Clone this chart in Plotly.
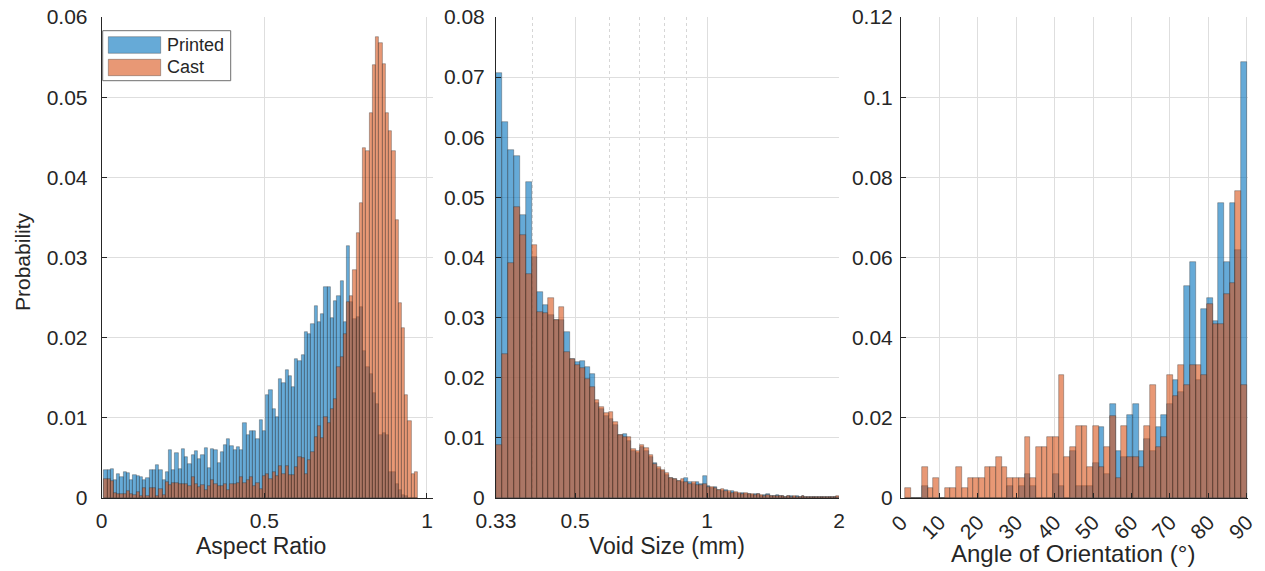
import numpy as np
import plotly.graph_objects as go

# ---------------- data ----------------
# Panel 1: Aspect Ratio (97 equal bins between these limits)
ar_bin_lo, ar_bin_hi = 0.007, 0.972
ar_printed = [0.0035, 0.0035, 0.0036, 0.0022, 0.0030, 0.0026, 0.0032, 0.0031, 0.0022, 0.0029,
              0.0028, 0.0026, 0.0023, 0.0025, 0.0035, 0.0035, 0.0041, 0.0035, 0.0022, 0.0033,
              0.0060, 0.0035, 0.0056, 0.0036, 0.0061, 0.0051, 0.0043, 0.0054, 0.0059, 0.0049,
              0.0054, 0.0063, 0.0037, 0.0061, 0.0060, 0.0044, 0.0058, 0.0066, 0.0073, 0.0065,
              0.0060, 0.0064, 0.0060, 0.0093, 0.0079, 0.0083, 0.0083, 0.0073, 0.0097, 0.0083,
              0.0128, 0.0135, 0.0111, 0.0101, 0.0148, 0.0144, 0.0160, 0.0152, 0.0138, 0.0173,
              0.0171, 0.0179, 0.0207, 0.0204, 0.0217, 0.0239, 0.0220, 0.0229, 0.0263, 0.0263,
              0.0224, 0.0246, 0.0252, 0.0271, 0.0220, 0.0314, 0.0245, 0.0223, 0.0226, 0.0238,
              0.0183, 0.0163, 0.0155, 0.0131, 0.0117, 0.0079, 0.0081, 0.0079, 0.0033, 0.0033,
              0.0017, 0.0010, 0.0004, 0.0002, 0.0, 0.0, 0.0]
ar_cast = [0.0024, 0.0024, 0.0021, 0.0006, 0.0005, 0.0005, 0.0005, 0.0009, 0.0005, 0.0004,
           0.0007, 0.0003, 0.0012, 0.0003, 0.0012, 0.0012, 0.0003, 0.0011, 0.0004, 0.0020,
           0.0016, 0.0019, 0.0019, 0.0017, 0.0017, 0.0018, 0.0015, 0.0026, 0.0017, 0.0014,
           0.0016, 0.0010, 0.0015, 0.0023, 0.0017, 0.0015, 0.0015, 0.0017, 0.0010, 0.0017,
           0.0017, 0.0019, 0.0026, 0.0019, 0.0023, 0.0026, 0.0015, 0.0019, 0.0011, 0.0028,
           0.0030, 0.0024, 0.0032, 0.0028, 0.0040, 0.0030, 0.0040, 0.0029, 0.0029, 0.0039,
           0.0051, 0.0050, 0.0030, 0.0048, 0.0058, 0.0076, 0.0090, 0.0075, 0.0101, 0.0093,
           0.0111, 0.0124, 0.0163, 0.0176, 0.0205, 0.0245, 0.0252, 0.0285, 0.0331, 0.0368,
           0.0436, 0.0433, 0.0480, 0.0540, 0.0575, 0.0567, 0.0542, 0.0480, 0.0458, 0.0433,
           0.0347, 0.0243, 0.0212, 0.0128, 0.0096, 0.0030, 0.0033]

# Panel 2: Void Size (mm) (89 bins, equal steps in sqrt(size))
vs_bin_lo, vs_bin_hi = 0.33, 2.0
vs_printed = [0.0707, 0.0625, 0.0578, 0.0568, 0.0471, 0.0526, 0.0401, 0.0343, 0.0321, 0.0305,
              0.0296, 0.0296, 0.0276, 0.0232, 0.0226, 0.0228, 0.0218, 0.0206, 0.0158, 0.0148,
              0.0137, 0.0131, 0.0121, 0.0104, 0.0106, 0.0095, 0.0079, 0.0075, 0.0085, 0.0079,
              0.0069, 0.0059, 0.0049, 0.0045, 0.0039, 0.0033, 0.0031, 0.0028, 0.0027, 0.0034,
              0.0027, 0.0024, 0.0026, 0.0024, 0.0036, 0.0020, 0.0017, 0.0019, 0.0014, 0.0012,
              0.0013, 0.0009, 0.0011, 0.0008, 0.0007, 0.0009, 0.0006, 0.0007, 0.0005, 0.0006,
              0.0007, 0.0004, 0.0005, 0.0006, 0.0003, 0.0004, 0.0005, 0.0003, 0.0004, 0.0002,
              0.0004, 0.0003, 0.0002, 0.0003, 0.0002, 0.0003, 0.0001, 0.0002, 0.0002, 0.0001,
              0.0002, 0.0001, 0.0002, 0.0001, 0.0001, 0.0002, 0.0001, 0.0001, 0.0002]
vs_cast = [0.0088, 0.0240, 0.0391, 0.0484, 0.0437, 0.0373, 0.0420, 0.0310, 0.0307, 0.0333,
           0.0296, 0.0317, 0.0243, 0.0232, 0.0222, 0.0217, 0.0198, 0.0185, 0.0163, 0.0151,
           0.0141, 0.0143, 0.0126, 0.0105, 0.0101, 0.0101, 0.0082, 0.0079, 0.0088, 0.0084,
           0.0072, 0.0056, 0.0051, 0.0046, 0.0041, 0.0034, 0.0032, 0.0029, 0.0031, 0.0026,
           0.0024, 0.0027, 0.0022, 0.0021, 0.0023, 0.0019, 0.0018, 0.0016, 0.0013, 0.0015,
           0.0011, 0.0012, 0.0009, 0.0010, 0.0008, 0.0007, 0.0008, 0.0006, 0.0007, 0.0005,
           0.0006, 0.0005, 0.0004, 0.0005, 0.0004, 0.0003, 0.0004, 0.0003, 0.0004, 0.0002,
           0.0003, 0.0002, 0.0003, 0.0002, 0.0002, 0.0003, 0.0002, 0.0002, 0.0001, 0.0002,
           0.0002, 0.0001, 0.0002, 0.0001, 0.0002, 0.0001, 0.0001, 0.0002, 0.0003]

# Panel 3: Angle of Orientation (60 equal bins)
ang_bin_lo, ang_bin_hi = 1.0, 90.0
ang_printed = [0, 0, 0, 0.0029, 0, 0, 0, 0, 0, 0,
               0, 0, 0, 0, 0, 0, 0, 0, 0.0029, 0,
               0.0029, 0.0059, 0.0029, 0, 0, 0, 0.0059, 0.0029, 0, 0.0118,
               0.0029, 0.0029, 0.0029, 0.0088, 0.0176, 0.0059, 0.0235, 0.0118, 0.0103, 0.0206,
               0.0235, 0.0118, 0.0147, 0.0118, 0.0176, 0.0206, 0.0235, 0.0294, 0.0265, 0.0529,
               0.0588, 0.0294, 0.0471, 0.0500, 0.0441, 0.0735, 0.0588, 0.0735, 0.0618, 0.1088]
ang_cast = [0.0025, 0, 0, 0.0077, 0.0025, 0.0051, 0, 0.0025, 0.0025, 0.0077,
            0.0025, 0.0051, 0.0051, 0.0051, 0.0077, 0.0077, 0.0102, 0.0077, 0.0051, 0.0051,
            0.0051, 0.0153, 0.0051, 0.0128, 0.0128, 0.0153, 0.0153, 0.0306, 0.0102, 0.0128,
            0.0179, 0.0179, 0.0077, 0.0179, 0.0077, 0.0128, 0.0204, 0.0051, 0.0179, 0.0102,
            0.0102, 0.0077, 0.0179, 0.0281, 0.0128, 0.0153, 0.0306, 0.0255, 0.0332, 0.0281,
            0.0332, 0.0332, 0.0306, 0.0485, 0.0434, 0.0434, 0.0510, 0.0536, 0.0765, 0.0281]

series_names = ["Printed", "Cast"]
x_titles = ["Aspect Ratio", "Void Size (mm)", "Angle of Orientation (°)"]
y_title = "Probability"
vs_tick_vals = [0.33, 0.5, 1, 2]
vs_tick_text = ["0.33", "0.5", "1", "2"]
vs_minor_vals = [0.4, 0.6, 0.7, 0.8, 0.9]

# ---------------- styles ----------------
W, H = 1265, 571
FONT = "Liberation Sans, Arial, sans-serif"
TXT = "#262626"
BLUE = "rgba(0,114,189,0.6)"
ORANGE = "rgba(217,83,25,0.6)"
EDGE = dict(color="rgba(38,38,38,0.55)", width=0.6)
GRID = "#dedede"
TICK_SIZE = 21


def px(x):
    return x / W


def py(y):
    return (H - y) / H


ydom = [py(498), py(17)]

fig = go.Figure()


def add_hist(edges, vals, color, name, xa, ya):
    edges = np.asarray(edges, dtype=float)
    centers = (edges[:-1] + edges[1:]) / 2
    widths = edges[1:] - edges[:-1]
    fig.add_trace(go.Bar(x=centers, y=vals, width=widths, name=name,
                         marker=dict(color=color, line=EDGE),
                         xaxis=xa, yaxis=ya, showlegend=False,
                         hovertemplate="%{y}<extra>" + name + "</extra>"))


# panel 1
ar_edges = np.linspace(ar_bin_lo, ar_bin_hi, len(ar_printed) + 1)
add_hist(ar_edges, ar_printed, BLUE, series_names[0], "x", "y")
add_hist(ar_edges, ar_cast, ORANGE, series_names[1], "x", "y")

# panel 2 (log10 of size on a linear axis)
u = np.linspace(np.sqrt(vs_bin_lo), np.sqrt(vs_bin_hi), len(vs_printed) + 1)
vs_edges = np.log10(u ** 2)
add_hist(vs_edges, vs_printed, BLUE, series_names[0], "x2", "y2")
add_hist(vs_edges, vs_cast, ORANGE, series_names[1], "x2", "y2")

# panel 3
ang_edges = np.linspace(ang_bin_lo, ang_bin_hi, len(ang_printed) + 1)
add_hist(ang_edges, ang_printed, BLUE, series_names[0], "x3", "y3")
add_hist(ang_edges, ang_cast, ORANGE, series_names[1], "x3", "y3")

axis_common = dict(showline=True, linecolor=TXT, linewidth=1, ticks="inside", ticklen=5,
                   tickcolor=TXT, tickwidth=1, showgrid=True, gridcolor=GRID, gridwidth=1,
                   zeroline=False, mirror=False, automargin=False,
                   tickfont=dict(family=FONT, size=TICK_SIZE, color=TXT))

fig.update_layout(
    width=W, height=H, margin=dict(l=0, r=0, t=0, b=0),
    paper_bgcolor="white", plot_bgcolor="white", barmode="overlay", bargap=0,
    font=dict(family=FONT, color=TXT),
    xaxis=dict(domain=[px(101.7), px(433)], range=[0, 1.0185], tickvals=[0, 0.5, 1],
               anchor="y", ticklabelstandoff=4, **axis_common),
    yaxis=dict(domain=ydom, range=[0, 0.06], dtick=0.01, anchor="x", ticklabelstandoff=9,
               **axis_common),
    xaxis2=dict(domain=[px(496), px(839)], range=[np.log10(0.33), np.log10(2)],
                tickvals=list(np.log10(vs_tick_vals)), ticktext=vs_tick_text, anchor="y2",
                ticklabelstandoff=4,
                minor=dict(tickvals=list(np.log10(vs_minor_vals)), showgrid=True,
                           griddash="dot", gridcolor="#d6d6d6", gridwidth=1, ticks=""),
                **axis_common),
    yaxis2=dict(domain=ydom, range=[0, 0.08], dtick=0.01, anchor="x2", ticklabelstandoff=6,
                **axis_common),
    xaxis3=dict(domain=[px(901), px(1248)], range=[0, 90.3], tickvals=list(range(0, 91, 10)),
                tickangle=-45, anchor="y3", ticklabelstandoff=3, **axis_common),
    yaxis3=dict(domain=ydom, range=[0, 0.12], dtick=0.02, anchor="x3", ticklabelstandoff=3,
                **axis_common),
)

# axis titles
ann = []
for txt, xc, yc, fs in [(x_titles[0], 261, 546, 23), (x_titles[1], 667, 546, 23),
                        (x_titles[2], 1073, 553, 24)]:
    ann.append(dict(text=txt, x=px(xc), y=py(yc), xref="paper", yref="paper",
                    xanchor="center", yanchor="middle", showarrow=False,
                    font=dict(family=FONT, size=fs, color=TXT)))
ann.append(dict(text=y_title, x=px(22), y=py(262), xref="paper", yref="paper",
                xanchor="center", yanchor="middle", showarrow=False, textangle=-90,
                font=dict(family=FONT, size=21, color=TXT)))

# legend (drawn)
shapes = [dict(type="rect", xref="paper", yref="paper", x0=px(102.7), x1=px(230.7),
               y0=py(80.7), y1=py(30.7), line=dict(color="#6e6e6e", width=1),
               fillcolor="white", layer="above")]
for color, y0, y1, name, yc in [(BLUE, 36.7, 53.3, series_names[0], 45),
                                (ORANGE, 59.3, 75.7, series_names[1], 67.5)]:
    shapes.append(dict(type="rect", xref="paper", yref="paper", x0=px(108.3), x1=px(160.7),
                       y0=py(y1), y1=py(y0), line=EDGE, fillcolor=color, layer="above"))
    ann.append(dict(text=name, x=px(164.5), y=py(yc), xref="paper", yref="paper",
                    xanchor="left", yanchor="middle", showarrow=False,
                    font=dict(family=FONT, size=18, color=TXT)))

fig.update_layout(annotations=ann, shapes=shapes)
fig.write_html("out.html")
